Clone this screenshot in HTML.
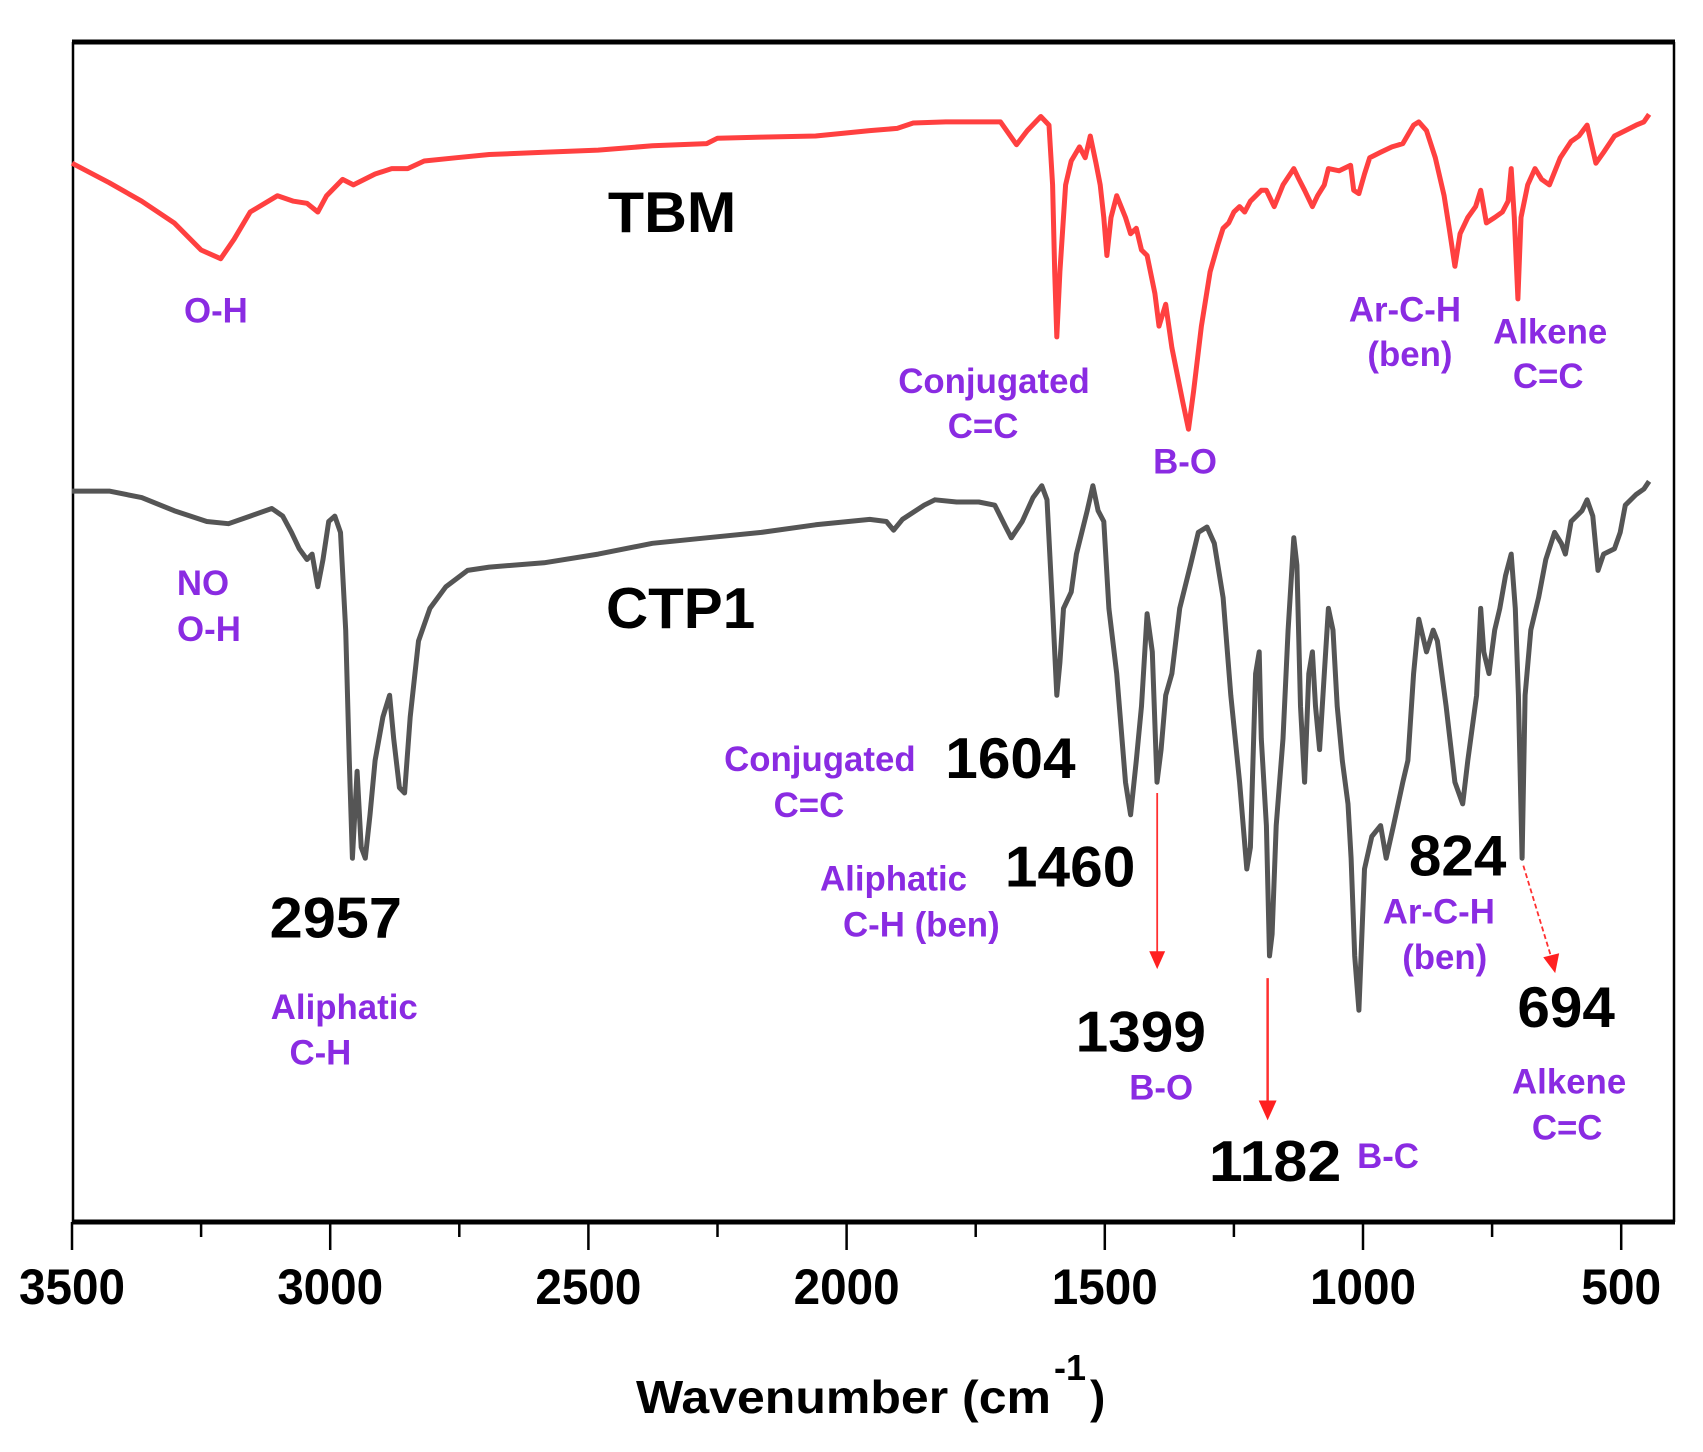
<!DOCTYPE html>
<html><head><meta charset="utf-8"><style>
html,body{margin:0;padding:0;background:#fff}
svg{display:block}
text{font-family:"Liberation Sans",Arial,sans-serif;font-weight:bold}
.p{fill:#8a2be2;font-size:35px}
.k{fill:#000;font-size:58px}
</style></head><body>
<svg id="chart" width="1703" height="1452" viewBox="0 0 1703 1452" xmlns="http://www.w3.org/2000/svg">
<g id="frame">
<line x1="72" y1="1222" x2="1675" y2="1222" stroke="#000" stroke-width="5"/>
<line x1="72" y1="42" x2="1675" y2="42" stroke="#000" stroke-width="5"/>
<line x1="73" y1="42" x2="73" y2="1222" stroke="#000" stroke-width="2.5"/>
<line x1="1674" y1="42" x2="1674" y2="1222" stroke="#000" stroke-width="2.5"/>
</g>
<g id="ticks"></g>
<g id="series"></g>
<g id="annotations" transform="scale(0.995)">
<text class="k" x="611" y="233" textLength="129" lengthAdjust="spacingAndGlyphs">TBM</text>
<text class="k" x="609" y="631" textLength="150" lengthAdjust="spacingAndGlyphs">CTP1</text>
<text class="p" x="217" y="324" text-anchor="middle">O-H</text>
<text class="p" x="999" y="395" text-anchor="middle">Conjugated</text>
<text class="p" x="988" y="440" text-anchor="middle">C=C</text>
<text class="p" x="1191" y="476" text-anchor="middle">B-O</text>
<text class="p" x="1412" y="323" text-anchor="middle">Ar-C-H</text>
<text class="p" x="1417" y="368" text-anchor="middle">(ben)</text>
<text class="p" x="1558" y="345" text-anchor="middle">Alkene</text>
<text class="p" x="1556" y="390" text-anchor="middle">C=C</text>
<text class="p" x="204" y="598" text-anchor="middle">NO</text>
<text class="p" x="210" y="644" text-anchor="middle">O-H</text>
<text class="k" x="271" y="942" textLength="133" lengthAdjust="spacingAndGlyphs">2957</text>
<text class="p" x="346" y="1024" text-anchor="middle">Aliphatic</text>
<text class="p" x="322" y="1070" text-anchor="middle">C-H</text>
<text class="p" x="824" y="775" text-anchor="middle">Conjugated</text>
<text class="p" x="813" y="821" text-anchor="middle">C=C</text>
<text class="k" x="950" y="782" textLength="131" lengthAdjust="spacingAndGlyphs">1604</text>
<text class="p" x="898" y="895" text-anchor="middle">Aliphatic</text>
<text class="p" x="926" y="941" text-anchor="middle">C-H (ben)</text>
<text class="k" x="1010" y="891" textLength="131" lengthAdjust="spacingAndGlyphs">1460</text>
<text class="k" x="1081" y="1057" textLength="131" lengthAdjust="spacingAndGlyphs">1399</text>
<text class="p" x="1167" y="1105" text-anchor="middle">B-O</text>
<text class="k" x="1215" y="1187" textLength="133" lengthAdjust="spacingAndGlyphs">1182</text>
<text class="p" x="1395" y="1174" text-anchor="middle">B-C</text>
<text class="k" x="1416" y="880" textLength="98" lengthAdjust="spacingAndGlyphs">824</text>
<text class="p" x="1446" y="928" text-anchor="middle">Ar-C-H</text>
<text class="p" x="1452" y="974" text-anchor="middle">(ben)</text>
<text class="k" x="1525" y="1032" textLength="98" lengthAdjust="spacingAndGlyphs">694</text>
<text class="p" x="1577" y="1099" text-anchor="middle">Alkene</text>
<text class="p" x="1575" y="1145" text-anchor="middle">C=C</text>
<g><line x1="1163" y1="797" x2="1163" y2="958" stroke="#ff3030" stroke-width="1.8"/><polygon points="1155,956 1171,956 1163,974" fill="#ff2020"/></g>
<g><line x1="1274" y1="983" x2="1274" y2="1108" stroke="#ff3030" stroke-width="2.5"/><polygon points="1265,1106 1283,1106 1274,1126" fill="#ff2020"/></g>
<g><line x1="1531" y1="870" x2="1559" y2="962" stroke="#ff3030" stroke-width="1.8" stroke-dasharray="5,3"/><polygon points="1551,962 1567,958 1563,978" fill="#ff2020"/></g>
</g>
<text x="636" y="1413" font-size="46" textLength="415" lengthAdjust="spacingAndGlyphs">Wavenumber (cm</text>
<text x="1054" y="1380" font-size="36">-1</text>
<text x="1090" y="1413" font-size="46">)</text>
</svg>
<script>
const tickValues = [3500,3000,2500,2000,1500,1000,500];
const minorTickValues = [3250,2750,2250,1750,1250,750];
const tbmWn = [3500,3428,3365,3302,3250,3212,3186,3155,3102,3071,3045,3024,3007,2976,2955,2913,2881,2850,2818,2755,2692,2586,2481,2376,2271,2250,2165,2060,1955,1902,1871,1808,1744,1702,1671,1650,1624,1608,1601,1597,1593,1587,1576,1565,1549,1538,1528,1517,1509,1502,1496,1488,1477,1460,1450,1439,1429,1418,1403,1395,1382,1370,1349,1338,1328,1313,1296,1281,1271,1260,1250,1239,1229,1218,1197,1187,1172,1155,1134,1124,1113,1098,1088,1075,1067,1046,1024,1018,1008,997,987,966,944,923,902,892,877,860,843,833,822,812,797,782,772,761,745,730,719,713,707,700,694,681,667,654,639,618,597,582,566,549,534,513,492,471,456,446];
const tbmT = [97.5,95.7,94.0,92.0,89.5,88.7,90.5,93.0,94.5,94.0,93.8,93.0,94.5,96.0,95.5,96.5,97.0,97.0,97.7,98.0,98.3,98.5,98.7,99.1,99.3,99.8,99.9,100.0,100.5,100.7,101.2,101.3,101.3,101.3,99.2,100.5,101.8,101.0,95.5,87.5,81.5,87.5,95.5,97.7,99.0,98.0,100.0,97.5,95.5,92.5,89.0,92.5,94.5,92.5,91.0,91.5,89.5,89.0,85.5,82.5,84.5,80.5,75.5,73.0,76.5,82.5,87.5,90.0,91.5,92.0,93.0,93.5,93.0,94.0,95.0,95.0,93.5,95.5,97.0,96.0,95.0,93.5,94.5,95.5,97.0,96.8,97.3,95.0,94.7,96.5,98.0,98.5,99.0,99.3,101.0,101.3,100.5,98.0,94.5,91.5,88.0,91.0,92.5,93.5,95.0,92.0,92.5,93.0,94.0,97.0,92.5,85.0,92.5,95.5,97.0,96.0,95.5,98.0,99.5,100.0,101.0,97.5,98.5,100.0,100.5,101.0,101.3,102.0];
const ctpWn = [3500,3428,3365,3302,3239,3197,3155,3113,3092,3075,3060,3045,3035,3024,3014,3003,2991,2980,2970,2963,2957,2948,2940,2932,2923,2913,2898,2885,2877,2866,2856,2845,2829,2807,2776,2734,2692,2586,2481,2376,2271,2165,2060,1955,1923,1909,1892,1850,1829,1787,1744,1713,1692,1681,1660,1639,1622,1612,1601,1593,1587,1580,1565,1555,1534,1523,1513,1502,1492,1477,1460,1450,1439,1429,1418,1408,1399,1391,1382,1370,1355,1334,1319,1302,1288,1271,1256,1239,1225,1218,1208,1201,1197,1187,1181,1176,1168,1155,1145,1134,1128,1121,1113,1105,1098,1092,1084,1075,1067,1058,1050,1040,1029,1023,1016,1008,997,983,966,955,941,923,913,902,892,877,864,856,839,822,807,797,780,772,766,756,745,735,724,713,705,699,692,686,675,660,646,629,616,608,597,576,566,555,545,534,513,502,492,471,456,446];
const ctpT = [67.3,67.3,66.7,65.5,64.5,64.3,65.0,65.7,65.0,63.5,62.0,61.0,61.5,58.5,61.0,64.5,65.0,63.5,54.5,42.5,33.5,41.5,34.5,33.5,37.5,42.5,46.5,48.5,44.5,40.0,39.5,46.5,53.5,56.5,58.5,60.0,60.3,60.7,61.5,62.5,63.0,63.5,64.2,64.7,64.5,63.7,64.7,66.0,66.5,66.3,66.3,66.0,64.0,63.0,64.5,66.7,67.8,66.5,56.5,48.5,51.5,56.5,58.0,61.5,65.5,67.8,65.5,64.5,56.5,50.5,40.5,37.5,42.5,47.5,56.0,52.5,40.5,43.5,48.5,50.5,56.5,60.5,63.5,64.0,62.5,57.5,48.5,40.5,32.5,34.5,50.5,52.5,44.5,36.5,24.5,26.5,36.5,44.5,54.5,63.0,60.5,47.5,40.5,50.5,52.5,47.5,43.5,50.5,56.5,54.5,47.5,42.5,38.5,33.5,24.5,19.5,32.5,35.5,36.5,33.5,36.5,40.5,42.5,50.5,55.5,52.5,54.5,53.5,47.5,40.5,38.5,42.5,48.5,56.5,52.5,50.5,54.5,56.5,59.5,61.5,56.5,48.5,33.5,48.5,54.5,57.5,61.0,63.5,62.5,61.5,64.5,65.5,66.5,65.0,60.0,61.5,62.0,63.5,66.0,67.0,67.5,68.2];

const NS = 'http://www.w3.org/2000/svg';
function xScale(wn){ return 72 + (3500 - wn) / 500 * 258.2; }
function yScale(t){ return 1222 - 10.86 * t; }

const tg = document.getElementById('ticks');
tickValues.forEach(v => {
  const l = document.createElementNS(NS,'line');
  l.setAttribute('x1', xScale(v)); l.setAttribute('x2', xScale(v));
  l.setAttribute('y1', 1222); l.setAttribute('y2', 1250);
  l.setAttribute('stroke','#000'); l.setAttribute('stroke-width','2.5');
  
  
  tg.appendChild(l);
  const t = document.createElementNS(NS,'text');
  t.setAttribute('x', xScale(v)); t.setAttribute('y', 1304);
  t.setAttribute('text-anchor','middle'); t.setAttribute('font-size','50');
  t.setAttribute('textLength','106'); t.setAttribute('lengthAdjust','spacingAndGlyphs');
  if (String(v).length === 3) t.setAttribute('textLength','80');
  t.textContent = v;
  
  
  tg.appendChild(t);
});
minorTickValues.forEach(v => {
  const l = document.createElementNS(NS,'line');
  l.setAttribute('x1', xScale(v)); l.setAttribute('x2', xScale(v));
  l.setAttribute('y1', 1222); l.setAttribute('y2', 1237);
  l.setAttribute('stroke','#000'); l.setAttribute('stroke-width','2.5');
  
  
  tg.appendChild(l);
});

function drawSeries(wn, t, color, name){
  const p = document.createElementNS(NS,'path');
  let d = '';
  for (let i = 0; i < wn.length; i++) d += (i ? 'L' : 'M') + xScale(wn[i]).toFixed(1) + ',' + yScale(t[i]).toFixed(1);
  p.setAttribute('d', d);
  p.setAttribute('fill','none'); p.setAttribute('stroke', color);
  p.setAttribute('stroke-width','5'); p.setAttribute('stroke-linejoin','round');
  
  
  document.getElementById('series').appendChild(p);
}
drawSeries(tbmWn, tbmT, '#ff4040', 'tbm-spectrum');
drawSeries(ctpWn, ctpT, '#555555', 'ctp1-spectrum');
</script>
</body></html>
